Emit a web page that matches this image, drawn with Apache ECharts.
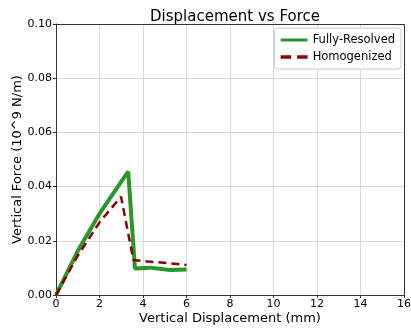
<!DOCTYPE html>
<html><head><meta charset="utf-8">
<script src="https://cdn.jsdelivr.net/npm/echarts@6/dist/echarts.min.js"></script>
<style>html,body{margin:0;padding:0;background:#fff}#c{width:411px;height:329px}</style>
</head><body><div id="c"></div>
<script>
const fullyX = [0, 1, 2, 3, 3.32, 3.63, 4.32, 5.24, 6.0];
const fullyY = [0, 0.0162, 0.0300, 0.0418, 0.0455, 0.0098, 0.0101, 0.0092, 0.0094];
const homX = [0, 1, 2, 2.99, 3.56, 4.5, 6.0];
const homY = [0, 0.0145, 0.0268, 0.0363, 0.0129, 0.0122, 0.0111];
const xTicks = [0, 2, 4, 6, 8, 10, 12, 14, 16];
const yTicks = [0, 0.02, 0.04, 0.06, 0.08, 0.10];

const font = 'DejaVu Sans';
const chart = echarts.init(document.getElementById('c'), null, {renderer: 'canvas'});
chart.setOption({
  animation: false,
  textStyle: {fontFamily: font},
  title: {text: 'Displacement vs Force', left: 230, top: 5, textAlign: 'center',
    textStyle: {fontFamily: font, fontSize: 15, fontWeight: 'normal', color: '#000'}},
  grid: {left: 56, right: 7, top: 24, bottom: 34, containLabel: false, outerBoundsMode: 'none'},
  legend: {
    right: 10, top: 28, orient: 'vertical', itemWidth: 27, itemHeight: 10, itemGap: 5,
    borderColor: '#ccc', borderWidth: 1, borderRadius: 3, padding: [6, 6, 6, 6],
    backgroundColor: '#fff',
    textStyle: {fontFamily: font, fontSize: 11.5, color: '#000'},
    data: [{name: 'Fully-Resolved', icon: 'path://M0,4L27,4L27,7L0,7Z', itemStyle:{color:'#2a962a'}},
           {name: 'Homogenized', icon: 'path://M0,4L9,4L9,7L0,7ZM14,4L23,4L23,7L14,7Z', itemStyle:{color:'#8b0000'}}]
  },
  xAxis: {
    type: 'value', min: 0, max: 16, interval: 2,
    name: 'Vertical Displacement (mm)', nameLocation: 'middle', nameGap: 17, nameMoveOverlap: false,
    nameTextStyle: {fontFamily: font, fontSize: 13, color: '#000'},
    axisLine: {show: true, lineStyle: {color: '#333', width: 1}},
    axisTick: {show: true, length: 3, lineStyle: {color: '#333'}},
    axisLabel: {fontFamily: font, fontSize: 11, color: '#000', margin: 4},
    splitLine: {show: true, lineStyle: {color: '#cfcfcf', width: 0.8}}
  },
  yAxis: {
    type: 'value', min: 0, max: 0.1, interval: 0.02,
    name: 'Vertical Force (10^9 N/m)', nameLocation: 'middle', nameGap: 32, nameMoveOverlap: false,
    nameTextStyle: {fontFamily: font, fontSize: 13, color: '#000'},
    axisLine: {show: true, lineStyle: {color: '#333', width: 1}},
    axisTick: {show: true, length: 3, lineStyle: {color: '#333'}},
    axisLabel: {fontFamily: font, fontSize: 11, color: '#000', margin: 4,
      formatter: v => v.toFixed(2)},
    splitLine: {show: true, lineStyle: {color: '#cfcfcf', width: 0.8}}
  },
  series: [
    {name: 'Fully-Resolved', type: 'line', symbol: 'none', z: 3,
     data: fullyX.map((x, i) => [x, fullyY[i]]),
     lineStyle: {color: '#2a962a', width: 4}, itemStyle: {color: '#2a962a'}},
    {name: 'Homogenized', type: 'line', symbol: 'none', z: 4,
     data: homX.map((x, i) => [x, homY[i]]),
     lineStyle: {color: '#8b0000', width: 2.5, type: [8, 5]}, itemStyle: {color: '#8b0000'}},
    {type: 'line', data: [], markLine: {silent: true, symbol: 'none', label:{show:false},
      lineStyle: {color: '#333', width: 1, type: 'solid'},
      data: [[{coord: [0, 0.1]}, {coord: [16, 0.1]}], [{coord: [16, 0]}, {coord: [16, 0.1]}]]}}
  ]
});
</script></body></html>
